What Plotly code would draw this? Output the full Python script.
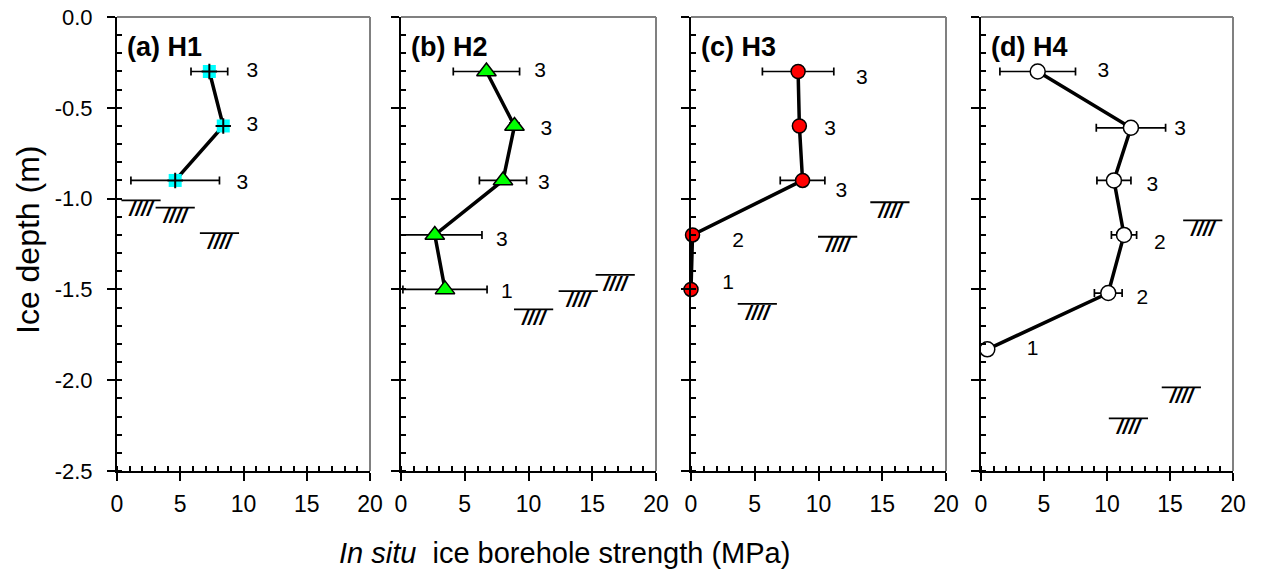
import plotly.graph_objects as go

# ---------------- data ----------------
depth_h1 = [-0.3, -0.6, -0.9]
str_h1 = [7.3, 8.4, 4.6]
err_h1 = [1.45, 0.0, 3.5]
lab_x_h1 = [10.7, 10.7, 9.9]
lab_y_h1 = [-0.3, -0.6, -0.92]
lab_t_h1 = ["3", "3", "3"]
hatch_x_h1 = [1.9, 4.6, 8.1]
hatch_y_h1 = [-1.01, -1.05, -1.19]

depth_h2 = [-0.3, -0.6, -0.9, -1.2, -1.5]
str_h2 = [6.7, 8.9, 8.0, 2.65, 3.45]
err_h2 = [2.6, 0.35, 1.85, 3.7, 3.3]
lab_x_h2 = [10.9, 11.4, 11.2, 7.9, 8.3]
lab_y_h2 = [-0.3, -0.62, -0.92, -1.23, -1.52]
lab_t_h2 = ["3", "3", "3", "3", "1"]
hatch_x_h2 = [10.4, 13.9, 16.8]
hatch_y_h2 = [-1.61, -1.51, -1.42]

depth_h3 = [-0.3, -0.6, -0.9, -1.2, -1.5]
str_h3 = [8.4, 8.5, 8.75, 0.12, 0.0]
err_h3 = [2.8, 0.0, 1.75, 0.0, 0.0]
lab_x_h3 = [13.4, 10.9, 11.8, 3.7, 2.9]
lab_y_h3 = [-0.34, -0.62, -0.96, -1.24, -1.47]
lab_t_h3 = ["3", "3", "3", "2", "1"]
hatch_x_h3 = [15.6, 11.5, 5.2]
hatch_y_h3 = [-1.02, -1.21, -1.58]

depth_h4 = [-0.3, -0.61, -0.9, -1.2, -1.52, -1.83]
str_h4 = [4.5, 11.9, 10.55, 11.35, 10.1, 0.5]
err_h4 = [3.0, 2.75, 1.35, 1.0, 1.1, 0.45]
lab_x_h4 = [9.7, 15.8, 13.6, 14.2, 12.8, 4.1]
lab_y_h4 = [-0.3, -0.62, -0.93, -1.25, -1.55, -1.83]
lab_t_h4 = ["3", "3", "3", "2", "2", "1"]
hatch_x_h4 = [17.6, 15.9, 11.7]
hatch_y_h4 = [-1.12, -2.04, -2.21]

panel_titles = ["(a) H1", "(b) H2", "(c) H3", "(d) H4"]
x_ticks = [0, 5, 10, 15, 20]
y_ticks = [0.0, -0.5, -1.0, -1.5, -2.0, -2.5]

# ---------------- figure ----------------
W, H = 1263, 583
FONT = "Liberation Sans, Arial, sans-serif"
px_left = [117, 401, 691, 981]
px_right = [370, 656, 946, 1233]
top_px, bot_px = 17, 471

fig = go.Figure()

panels = [
    (depth_h1, str_h1, err_h1, lab_x_h1, lab_y_h1, lab_t_h1, hatch_x_h1, hatch_y_h1,
     dict(symbol="square", size=13, color="#00FFFF", line=dict(width=0))),
    (depth_h2, str_h2, err_h2, lab_x_h2, lab_y_h2, lab_t_h2, hatch_x_h2, hatch_y_h2,
     dict(symbol="triangle-up", size=17, color="#00FF00", line=dict(width=1.5, color="black"))),
    (depth_h3, str_h3, err_h3, lab_x_h3, lab_y_h3, lab_t_h3, hatch_x_h3, hatch_y_h3,
     dict(symbol="circle", size=14, color="#FF0000", line=dict(width=1.5, color="black"))),
    (depth_h4, str_h4, err_h4, lab_x_h4, lab_y_h4, lab_t_h4, hatch_x_h4, hatch_y_h4,
     dict(symbol="circle", size=15, color="white", line=dict(width=1.5, color="black"))),
]

for i, (dep, st, er, lx, ly, lt, hx, hy, mk) in enumerate(panels):
    xa = "x" if i == 0 else f"x{i+1}"
    ya = "y" if i == 0 else f"y{i+1}"
    fig.add_trace(go.Scatter(
        x=st, y=dep, xaxis=xa, yaxis=ya, mode="lines+markers",
        line=dict(color="black", width=3.5), marker=mk,
        error_x=dict(type="data", array=er, visible=True, color="black", thickness=1.7, width=4),
        cliponaxis=False, showlegend=False))
    if i == 0:
        fig.add_trace(go.Scatter(
            x=st, y=dep, xaxis=xa, yaxis=ya, mode="markers",
            marker=dict(symbol="cross-thin", size=11, line=dict(width=2, color="black")),
            cliponaxis=False, showlegend=False))
    # sample count labels
    fig.add_trace(go.Scatter(
        x=lx, y=ly, xaxis=xa, yaxis=ya, mode="text", text=lt,
        textfont=dict(family=FONT, size=21, color="black"),
        cliponaxis=False, showlegend=False))
    # ice-bottom hatch symbols
    fig.add_trace(go.Scatter(
        x=hx, y=hy, xaxis=xa, yaxis=ya, mode="markers",
        marker=dict(symbol="line-ew", size=28, line=dict(width=1.8, color="black")),
        cliponaxis=False, showlegend=False))
    fig.add_trace(go.Scatter(
        x=hx, y=hy, xaxis=xa, yaxis=ya, mode="text", text=["<b><i>////</i></b>"] * len(hx),
        textposition="bottom center",
        textfont=dict(family=FONT, size=21, color="black"),
        cliponaxis=False, showlegend=False))

layout = dict(
    width=W, height=H, margin=dict(l=0, r=0, t=0, b=0, autoexpand=False),
    paper_bgcolor="white", plot_bgcolor="white",
    font=dict(family=FONT, color="black"),
    showlegend=False,
)
yd = [1 - bot_px / H, 1 - top_px / H]
shapes = []
annotations = []
for i in range(4):
    sx = "" if i == 0 else str(i + 1)
    layout[f"xaxis{sx}"] = dict(
        domain=[px_left[i] / W, px_right[i] / W], range=[0, 20], anchor=f"y{sx}",
        tickvals=x_ticks, ticktext=[str(v) for v in x_ticks], automargin=False,
        ticks="outside", ticklen=8, tickwidth=2, tickcolor="black",
        minor=dict(dtick=1, ticks="inside", ticklen=5, tickwidth=2, tickcolor="black"),
        showline=True, linecolor="black", linewidth=2, showgrid=False, zeroline=False,
        tickfont=dict(family=FONT, size=23, color="black"), ticklabelstandoff=3,
        ticklabeloverflow="allow",
    )
    layout[f"yaxis{sx}"] = dict(
        domain=yd, range=[-2.5, 0], anchor=f"x{sx}", automargin=False,
        tickvals=y_ticks, ticktext=[f"{v:.1f}" for v in y_ticks],
        ticks="outside", ticklen=8, tickwidth=2, tickcolor="black",
        minor=dict(dtick=0.1, ticks="inside", ticklen=5, tickwidth=2, tickcolor="black"),
        showline=True, linecolor="black", linewidth=2, showgrid=False, zeroline=False,
        showticklabels=(i == 0), ticklabeloverflow="allow",
        tickfont=dict(family=FONT, size=22, color="black"), ticklabelstandoff=10,
    )
    xr = f"x{sx} domain"
    yr = f"y{sx} domain"
    shapes.append(dict(type="line", xref=xr, yref=yr, x0=0, x1=1, y0=1, y1=1,
                       line=dict(color="#808080", width=2)))
    shapes.append(dict(type="line", xref=xr, yref=yr, x0=1, x1=1, y0=0, y1=1,
                       line=dict(color="#808080", width=2)))
    annotations.append(dict(text=f"<b>{panel_titles[i]}</b>", xref=xr, yref=yr,
                            x=0.03, y=0.935, xanchor="left", yanchor="middle",
                            showarrow=False, font=dict(family=FONT, size=27, color="black")))

annotations.append(dict(text="Ice depth (m)", xref="paper", yref="paper",
                        x=28 / W, y=1 - 240 / H, textangle=-90,
                        xanchor="center", yanchor="middle", showarrow=False,
                        font=dict(family=FONT, size=32, color="black")))
annotations.append(dict(text="<i>In situ</i>  ice borehole strength (MPa)", xref="paper", yref="paper",
                        x=564 / W, y=1 - 553 / H, xanchor="center", yanchor="middle",
                        showarrow=False, font=dict(family=FONT, size=29, color="black")))
layout["shapes"] = shapes
layout["annotations"] = annotations
fig.update_layout(**layout)

fig.write_html("out.html", config={"displayModeBar": False},
               post_script="document.body.style.margin='0px';")
